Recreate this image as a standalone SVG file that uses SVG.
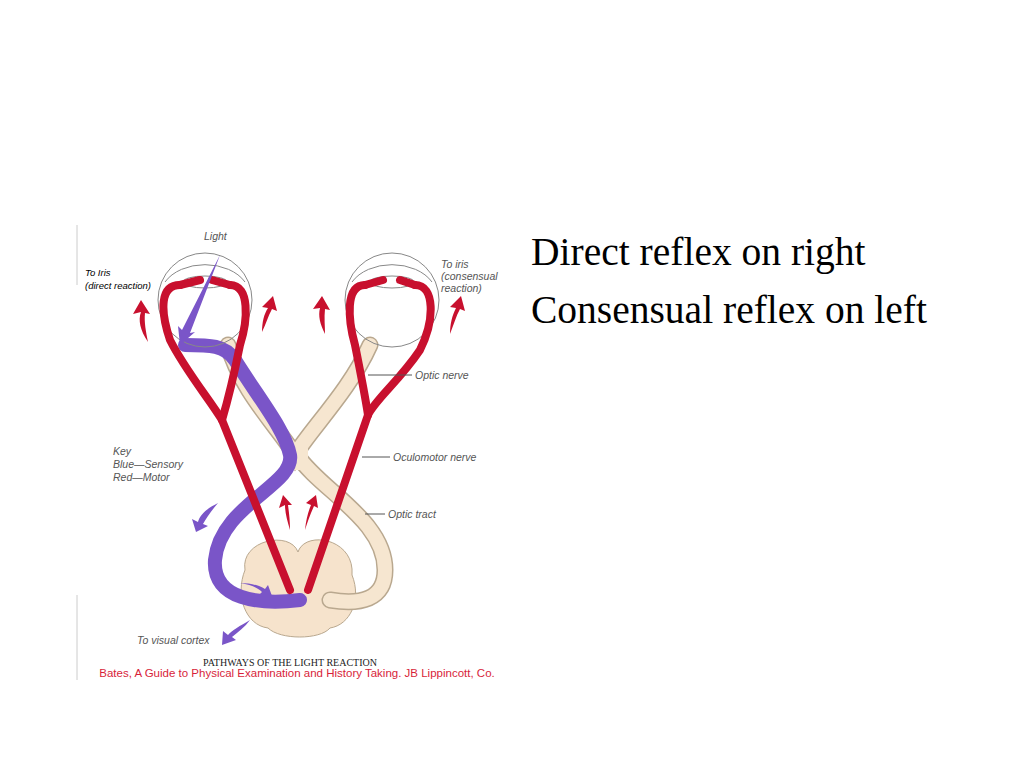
<svg xmlns="http://www.w3.org/2000/svg" width="1024" height="768" viewBox="0 0 1024 768">
<style>
.lab{font-family:"Liberation Sans",sans-serif;font-style:italic;font-size:10.5px;fill:#555}
.red{fill:none;stroke:#c8102e;stroke-width:8;stroke-linecap:round}
.eye{fill:none;stroke:#888;stroke-width:1}
.beige{fill:none;stroke:#f6e6d0;stroke-width:14;stroke-linecap:round}
.beigeo{fill:none;stroke:#b9a88f;stroke-width:17;stroke-linecap:round}
.pur{fill:none;stroke:#7a55c8;stroke-width:14;stroke-linecap:round}
.ra{fill:#c8102e}.pa{fill:#7a55c8}
.big{font-family:"Liberation Serif",serif;font-size:39.5px;fill:#000}
</style>
<rect width="1024" height="768" fill="#fff"/>
<line x1="77" y1="225" x2="77" y2="285" stroke="#ccc"/>
<line x1="77" y1="595" x2="77" y2="680" stroke="#ccc"/>
<g id="brainstem">
<path d="M245,570 C240,540 290,530 298,552 C305,530 355,538 352,575 C362,600 350,625 330,628 C320,640 280,640 268,628 C245,625 235,595 245,570Z" fill="#f6e3cc" stroke="#b9a88f" stroke-width="1"/>
</g>
<g id="optic">
<path class="beigeo" d="M228,345 C240,390 280,430 295,455 C310,430 350,390 370,345"/>
<path class="beige" d="M228,345 C240,390 280,430 295,455 C310,430 350,390 370,345"/>
<path class="beigeo" d="M297,455 C320,490 385,520 385,570 C385,600 360,605 330,600"/>
<path class="beige" d="M297,455 C320,490 385,520 385,570 C385,600 360,605 330,600"/>
<rect x="286" y="445" width="22" height="25" fill="#f6e6d0"/>
<path class="pur" d="M185,345 C210,345 225,345 235,360 C260,400 285,430 290,455 C295,485 220,505 215,560 C212,600 260,605 300,600"/>
</g>
<g id="eyes">
<circle class="eye" cx="205" cy="300" r="47"/>
<path class="eye" d="M165,282 A45,32 0 0 1 245,282"/>
<ellipse class="eye" cx="205" cy="282" rx="22" ry="6"/>
<circle class="eye" cx="392" cy="300" r="47"/>
<path class="eye" d="M352,282 A45,32 0 0 1 432,282"/>
<ellipse class="eye" cx="392" cy="282" rx="22" ry="6"/>
</g>
<g id="motor">
<path class="red" d="M180,285 C160,285 160,310 170,340 C185,370 210,400 222,420 L290,590"/>
<path class="red" d="M230,285 C250,285 248,320 240,345 C235,370 228,400 222,420"/>
<path class="red" d="M365,285 C345,285 348,320 355,345 C360,370 365,395 368,415"/>
<path class="red" d="M415,285 C435,285 435,320 420,350 C400,380 375,400 368,415 L308,590"/>
<path class="red" d="M180,285 L200,280 M230,285 L212,280 M365,285 L383,280 M415,285 L400,280"/>
</g>
<g id="arrows">
<path class="ra" d="M148,342 C140,330 138,320 141,312 L133,314 L141,300 L150,314 L145,313 C144,322 146,332 148,342Z"/>
<path class="ra" d="M262,332 C262,322 264,314 268,308 L262,307 L273,296 L277,311 L272,309 C268,316 266,324 262,332Z"/>
<path class="ra" d="M325,334 C320,324 318,316 320,308 L313,309 L322,296 L330,310 L325,309 C324,318 325,326 325,334Z"/>
<path class="ra" d="M450,334 C450,324 452,316 456,308 L450,307 L461,296 L465,311 L460,309 C456,316 454,324 450,334Z"/>
<path class="ra" d="M290,530 C287,520 285,512 285,505 L279,508 L283,495 L292,505 L288,505 C289,513 290,520 290,530Z"/>
<path class="ra" d="M305,530 C306,520 308,512 311,505 L306,503 L316,495 L318,508 L314,506 C311,513 308,520 305,530Z"/>
<path class="pa" d="M218,503 C208,508 200,514 198,522 L192,519 L196,532 L208,526 L203,524 C207,517 212,510 218,503Z"/>
<path class="pa" d="M250,620 C240,626 232,630 228,635 L223,631 L222,645 L236,640 L232,637 C238,632 245,627 250,620Z"/>
<path class="pa" d="M240,583 C252,585 258,588 262,592 L258,596 L272,596 L268,585 L265,589 C258,585 250,583 240,583Z"/>
<path class="pa" d="M220,255 L182,330 L178,326 L180,345 L195,332 L190,333 Z"/>
</g>
<g id="labels">
<text x="204" y="240" class="lab">Light</text>
<g font-family="Liberation Sans,sans-serif" font-style="italic" font-size="9.5" fill="#000"><text x="85" y="276">To Iris</text><text x="85" y="289">(direct reaction)</text></g>
<text x="441" y="268" class="lab">To iris</text><text x="441" y="280" class="lab">(consensual</text><text x="441" y="292" class="lab">reaction)</text>
<line x1="368" y1="375" x2="412" y2="375" stroke="#555"/><text x="415" y="379" class="lab">Optic nerve</text>
<line x1="362" y1="457" x2="390" y2="457" stroke="#555"/><text x="393" y="461" class="lab">Oculomotor nerve</text>
<line x1="365" y1="514" x2="385" y2="514" stroke="#555"/><text x="388" y="518" class="lab">Optic tract</text>
<text x="113" y="455" class="lab">Key</text><text x="113" y="468" class="lab">Blue—Sensory</text><text x="113" y="481" class="lab">Red—Motor</text>
<text x="137" y="644" class="lab">To visual cortex</text>
<text x="290" y="666" text-anchor="middle" font-family="Liberation Serif,serif" font-size="10" fill="#222">PATHWAYS OF THE LIGHT REACTION</text>
<text x="297" y="677" text-anchor="middle" font-family="Liberation Sans,sans-serif" font-size="11.5" fill="#d81e3a">Bates, A Guide to Physical Examination and History Taking. JB Lippincott, Co.</text>
<text x="531" y="265" class="big">Direct reflex on right</text>
<text x="531" y="323" class="big">Consensual reflex on left</text>
</g>
</svg>
